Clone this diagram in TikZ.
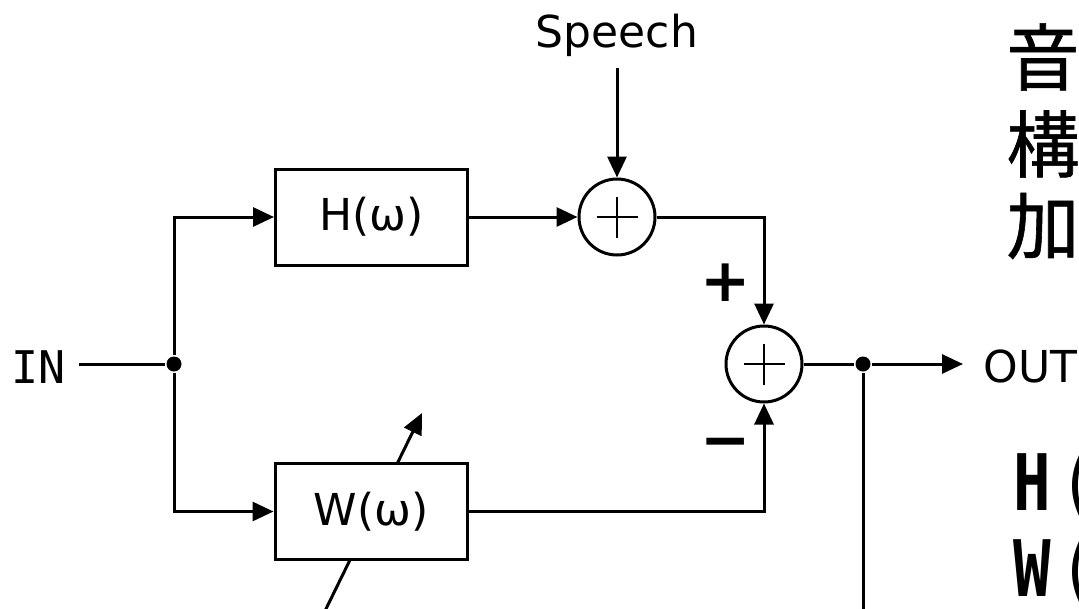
\documentclass[tikz,border=0pt]{standalone}
\usepackage{fontspec}
\setmainfont{DejaVu Sans}
\newfontfamily\cjk[FakeBold=0.8]{Noto Sans CJK JP}
\newfontfamily\monof{DejaVu Sans Mono}
\usetikzlibrary{arrows.meta}
\begin{document}
\begin{tikzpicture}[x=1pt,y=-1pt, line width=3pt,
 arr/.style={-{Triangle[width=19pt,length=21pt]}},
 blk/.style={draw, fill=white, minimum width=192pt, minimum height=96pt, inner sep=0pt, font=\fontsize{44}{50}\selectfont},
 sum/.style={draw, circle, fill=white, minimum size=76pt, inner sep=0pt,
   path picture={\draw[line width=2pt]
     ([xshift=-20.5pt]path picture bounding box.center) -- ([xshift=20.5pt]path picture bounding box.center)
     ([yshift=-20.5pt]path picture bounding box.center) -- ([yshift=20.5pt]path picture bounding box.center);}},
 lbl/.style={font=\fontsize{44}{50}\selectfont, inner sep=0pt},
 sign/.style={font=\bfseries\fontsize{60}{60}\selectfont, inner sep=0pt},
 dot/.style={circle, fill, inner sep=0pt, minimum size=15pt},
 bigcjk/.style={font=\cjk\fontsize{73}{80}\selectfont, inner sep=0pt, anchor=west},
 bigmono/.style={font=\monof\fontsize{78}{80}\selectfont, inner sep=0pt, anchor=base west}
]
\useasboundingbox (0,0) rectangle (1079,608);
\clip (0,0) rectangle (1079,608);
\fill[white] (0,0) rectangle (1079,608);
% adaptation arrow (behind W box)
\coordinate (d1) at (323,615);
\coordinate (d2) at (422,413);
\draw[arr] (d1) -- (d2);
% nodes
\node[blk] (H) at (371.5,217) {H(ω)};
\node[blk] (W) at (371,511.5) {W(ω)};
\node[sum] (s1) at (617,217) {};
\node[sum] (s2) at (764,364) {};
\node[dot] (j1) at (174,364) {};
\node[dot] (j2) at (863,364) {};
\node[lbl, anchor=base] (Sp) at (617,47) {Speech};
\node[font=\monof\fontsize{45}{50}\selectfont, inner sep=0pt, anchor=base west] (IN) at (10,383) {IN};
\node[lbl, anchor=west, inner xsep=19pt] (OUT) at (963,366.5) {OUT};
\node[sign] (plus) at (726,283) {+};
\node[sign] (minus) at (726,449) {−};
\coordinate (b2) at (863,615);
% connectors
\draw ([xshift=12pt]IN.east |- j1) -- (j1);
\draw[arr] (j1) |- (H.west);
\draw[arr] (j1) |- (W.west);
\draw[arr] ([yshift=-10.6pt]Sp.south) -- (s1.north);
\draw[arr] (H.east) -- (s1.west);
\draw[arr] (s1.east) -| (s2.north);
\draw[arr] (W.east) -| (s2.south);
\draw (s2.east) -- (j2);
\draw[arr] (j2) -- (OUT.west |- j2);
\draw (j2) -- (b2);
% right-side text (cut off by the frame)
\node[bigcjk] (t1) at (1005,57) {音};
\node[bigcjk] (t2) at (1005,144) {構};
\node[bigcjk] (t3) at (1005,226) {加};
\node[bigmono] (e1) at (1012,510) {\scalebox{0.8}[1]{{\bfseries H}\kern10pt(}};
\node[bigmono] (e2) at (1012,596) {\scalebox{0.8}[1]{{\bfseries W}\kern10pt(}};
\end{tikzpicture}
\end{document}
